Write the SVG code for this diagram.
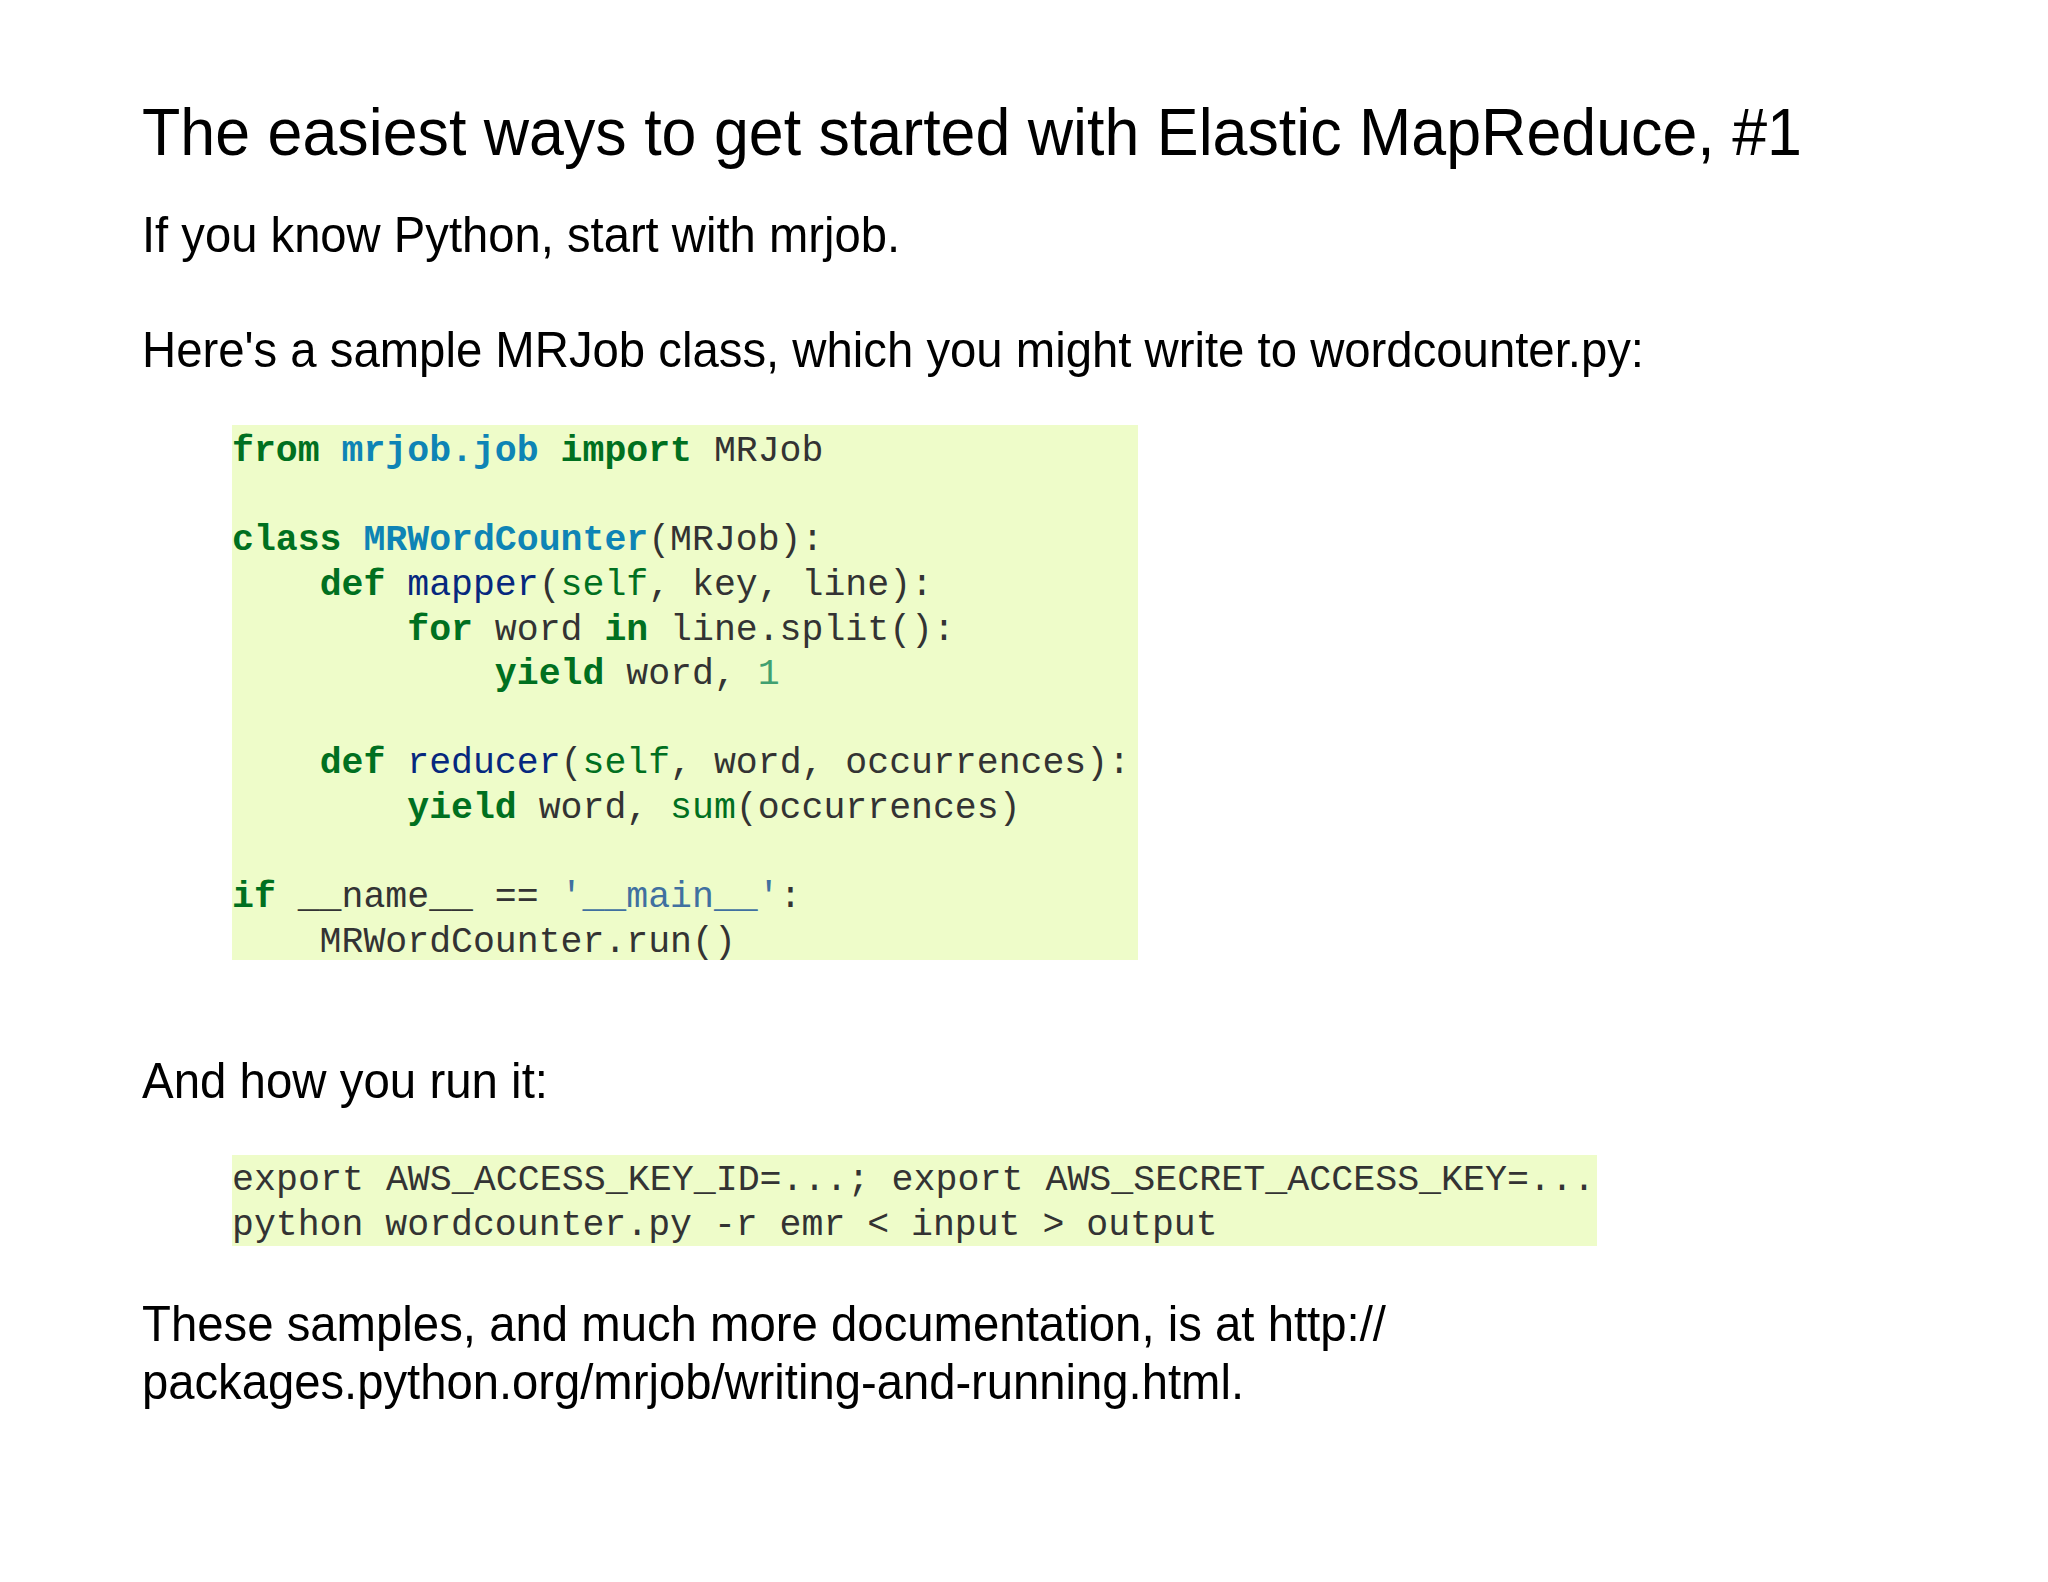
<svg xmlns="http://www.w3.org/2000/svg" width="2048" height="1582" viewBox="0 0 2048 1582">
<style>
.t{font-family:"Liberation Sans",Arial,sans-serif;fill:#000}
.c{font-family:"Liberation Mono","Courier New",monospace;font-size:36.5px;fill:#333;white-space:pre}
.k{fill:#007020;font-weight:bold}
.n{fill:#0e84b5;font-weight:bold}
.f{fill:#06287e}
.b{fill:#007020}
.m{fill:#40a070}
.s{fill:#4070a0}
.box{fill:#eefcc9}
</style>
<rect width="2048" height="1582" fill="#fff"/>
<g id="title"><text class="t" x="142" y="155" font-size="66" textLength="1660" lengthAdjust="spacingAndGlyphs">The easiest ways to get started with Elastic MapReduce, #1</text></g>
<g id="intro">
<text class="t" x="142" y="252" font-size="50" textLength="758" lengthAdjust="spacingAndGlyphs">If you know Python, start with mrjob.</text>
<text class="t" x="142" y="367" font-size="50" textLength="1502" lengthAdjust="spacingAndGlyphs">Here's a sample MRJob class, which you might write to wordcounter.py:</text>
</g>
<g id="code1">
<rect class="box" x="232" y="425" width="906" height="535"/>
<text class="c" x="232" y="461"><tspan class="k">from</tspan> <tspan class="n">mrjob.job</tspan> <tspan class="k">import</tspan> MRJob</text>
<text class="c" x="232" y="550"><tspan class="k">class</tspan> <tspan class="n">MRWordCounter</tspan>(MRJob):</text>
<text class="c" x="232" y="595">    <tspan class="k">def</tspan> <tspan class="f">mapper</tspan>(<tspan class="b">self</tspan>, key, line):</text>
<text class="c" x="232" y="640">        <tspan class="k">for</tspan> word <tspan class="k">in</tspan> line.split():</text>
<text class="c" x="232" y="684">            <tspan class="k">yield</tspan> word, <tspan class="m">1</tspan></text>
<text class="c" x="232" y="773">    <tspan class="k">def</tspan> <tspan class="f">reducer</tspan>(<tspan class="b">self</tspan>, word, occurrences):</text>
<text class="c" x="232" y="818">        <tspan class="k">yield</tspan> word, <tspan class="b">sum</tspan>(occurrences)</text>
<text class="c" x="232" y="907"><tspan class="k">if</tspan> __name__ == <tspan class="s">'__main__'</tspan>:</text>
<text class="c" x="232" y="952">    MRWordCounter.run()</text>
</g>
<g id="run">
<text class="t" x="142" y="1098" font-size="50" textLength="406" lengthAdjust="spacingAndGlyphs">And how you run it:</text>
<rect class="box" x="232" y="1155" width="1365" height="91"/>
<text class="c" x="232" y="1190" font-size="36" textLength="1363" lengthAdjust="spacingAndGlyphs">export AWS_ACCESS_KEY_ID=...; export AWS_SECRET_ACCESS_KEY=...</text>
<text class="c" x="232" y="1235" font-size="36">python wordcounter.py -r emr &lt; input &gt; output</text>
</g>
<g id="footer">
<text class="t" x="142" y="1341" font-size="50" textLength="1244" lengthAdjust="spacingAndGlyphs">These samples, and much more documentation, is at http://</text>
<text class="t" x="142" y="1399" font-size="50" textLength="1102" lengthAdjust="spacingAndGlyphs">packages.python.org/mrjob/writing-and-running.html.</text>
</g>
<g id="connectors"/>
</svg>
